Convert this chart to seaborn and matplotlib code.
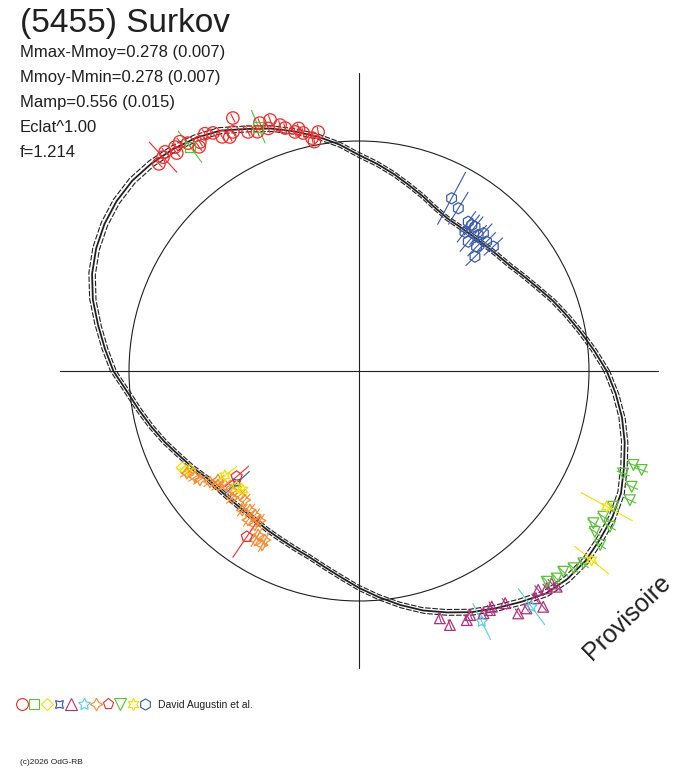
import numpy as np
import pandas as pd
import matplotlib
matplotlib.use('Agg')
import matplotlib.pyplot as plt
import seaborn as sns
from matplotlib.collections import LineCollection
from matplotlib.lines import Line2D

# fitted lightcurve: relative flux (1 = mean) against polar angle, every 5 deg
curve_angle = list(range(0, 360, 5))
curve_flux = [1.077, 1.026, 0.978, 0.935, 0.896, 0.857, 0.826, 0.800, 0.785, 0.774,
              0.767, 0.765, 0.767, 0.783, 0.809, 0.837, 0.870, 0.904, 0.939, 0.989,
              1.035, 1.078, 1.122, 1.161, 1.207, 1.237, 1.259, 1.276, 1.287, 1.287,
              1.278, 1.261, 1.235, 1.198, 1.152, 1.109, 1.068, 1.013, 0.972, 0.935,
              0.900, 0.865, 0.837, 0.809, 0.798, 0.791, 0.787, 0.789, 0.798, 0.807,
              0.820, 0.837, 0.865, 0.900, 0.943, 0.987, 1.033, 1.078, 1.117, 1.157,
              1.191, 1.226, 1.263, 1.280, 1.285, 1.278, 1.272, 1.257, 1.226, 1.196,
              1.161, 1.120]

# observing sessions: polar angle (deg), relative flux, flux error
s1_ang = [132.5, 131.5, 129.4, 129.9, 126.9, 124.8, 125.5, 121.5, 120.3, 117.8, 116.5, 118.9,
          114.9, 111.8, 109.5, 107.8, 106.9, 105.0, 103.2, 101.4, 99.7, 101.0, 134.0, 128.0,
          123.0, 113.0, 110.5, 104.0]
s1_flux = [1.261, 1.272, 1.260, 1.235, 1.239, 1.212, 1.197, 1.214, 1.179, 1.175, 1.229, 1.162,
           1.146, 1.161, 1.158, 1.123, 1.104, 1.076, 1.063, 1.033, 1.054, 1.016, 1.252, 1.265,
           1.230, 1.130, 1.126, 1.087]
s1_err = [0.090] + [0.022] * 27

s2_ang = [127.0, 112.4]
s2_flux = [1.221, 1.149]
s2_err = [0.087, 0.078]

s3_ang = [208.7, 210.0, 210.4]
s3_flux = [0.877, 0.869, 0.852]
s3_err = [0.015, 0.015, 0.015]

s4_ang = [222.5]
s4_flux = [0.720]
s4_err = [0.075]

s5_ang = [288.1, 289.7, 293.4, 294.5, 297.2, 298.7, 299.4, 302.2, 303.3, 305.2, 307.8, 308.0,
          309.3, 310.8, 312.2, 312.5]
s5_flux = [1.131, 1.173, 1.180, 1.166, 1.184, 1.185, 1.176, 1.193, 1.261, 1.263, 1.250, 1.301,
           1.230, 1.248, 1.247, 1.272]
s5_err = [0.025] * 16

s6_ang = [296.1, 306.2]
s6_flux = [1.213, 1.270]
s6_err = [0.089, 0.098]

s7_ang = [210.7, 212.9, 214.4, 216.7, 217.7, 220.4, 223.1, 226.2, 228.5, 231.9, 234.2, 233.3,
          235.9, 238.4, 240.9, 240.9, 238.4, 219.0, 225.0, 230.0, 236.5]
s7_flux = [0.870, 0.849, 0.838, 0.808, 0.775, 0.765, 0.757, 0.747, 0.749, 0.768, 0.772, 0.808,
           0.808, 0.837, 0.866, 0.841, 0.863, 0.790, 0.780, 0.790, 0.780]
s7_err = [0.035] * 21

s8_ang = [220.8, 235.9]
s8_flux = [0.703, 0.870]
s8_err = [0.070, 0.110]

s9_ang = [341.1, 340.7, 338.8, 337.0, 334.5, 331.9, 329.2, 327.0, 328.2, 325.7, 324.2, 319.4,
          317.4, 315.5, 313.6, 311.7]
s9_flux = [1.261, 1.302, 1.232, 1.288, 1.305, 1.253, 1.237, 1.215, 1.284, 1.241, 1.293, 1.285,
           1.267, 1.245, 1.246, 1.227]
s9_err = [0.030] * 16

s10_ang = [331.3, 320.9, 223.4, 225.7, 218.0]
s10_flux = [1.228, 1.303, 0.732, 0.723, 0.740]
s10_err = [0.128, 0.096, 0.020, 0.020, 0.065]

s11_ang = [61.8, 58.6, 53.8, 52.3, 51.2, 49.8, 47.9, 45.4, 46.6, 44.6, 42.8, 48.8, 52.7]
s11_flux = [0.852, 0.829, 0.804, 0.802, 0.805, 0.736, 0.807, 0.790, 0.744, 0.708, 0.796,
            0.786, 0.760]
s11_err = [0.130, 0.083] + [0.057] * 11

sessions = [
    (s1_ang, s1_flux, s1_err, 'o', '#ee2a2a', 80),
    (s2_ang, s2_flux, s2_err, 's', '#5cbf3c', 55),
    (s3_ang, s3_flux, s3_err, 'D', '#f0dc00', 35),
    (s4_ang, s4_flux, s4_err, (4, 1, 45), '#3050b0', 60),
    (s5_ang, s5_flux, s5_err, '^', '#b0307a', 60),
    (s6_ang, s6_flux, s6_err, (5, 1, 0), '#5ccbe0', 70),
    (s7_ang, s7_flux, s7_err, (4, 1, 0), '#f58a30', 70),
    (s8_ang, s8_flux, s8_err, 'p', '#e83030', 70),
    (s9_ang, s9_flux, s9_err, 'v', '#5cbf3c', 60),
    (s10_ang, s10_flux, s10_err, (6, 1, 0), '#f0e000', 70),
    (s11_ang, s11_flux, s11_err, 'h', '#3a5aaa', 65),
]
legend_ms = [8.5, 7, 6, 8, 8, 9, 9, 8, 8, 9, 8]

sns.set_style('white')
plt.rcParams['font.family'] = ['Liberation Sans', 'DejaVu Sans']

W, H = 688, 768
R = 230.0  # pixels of the unit circle
cx, cy = 359, 371
fig = plt.figure(figsize=(W / 100, H / 100), dpi=100)
ax = fig.add_axes([0, 0, 1, 1])
ax.set_xlim(-cx / R, (W - cx) / R)
ax.set_ylim((cy - H) / R, cy / R)
ax.set_axis_off()

ink = '#202020'
# axes cross and unit circle
ax.plot([-1.3, 1.3], [0, 0], color=ink, lw=0.8)
ax.plot([0, 0], [-1.29, 1.295], color=ink, lw=0.8)
ax.add_patch(plt.Circle((0, 0), 1.0, fill=False, color=ink, lw=0.8))

# lightcurve (central fit and its two bounds)
th = np.deg2rad(curve_angle + curve_angle[:1])
fl = np.array(curve_flux + curve_flux[:1])
for scale, ls, lw in [(1.0, '-', 1.3), (1.012, (0, (5, 1.5)), 0.8), (0.988, (0, (5, 1.5)), 0.8)]:
    curve = pd.DataFrame({'x': scale * fl * np.cos(th), 'y': scale * fl * np.sin(th)})
    sns.lineplot(data=curve, x='x', y='y', sort=False, estimator=None, color=ink,
                 lw=lw, linestyle=ls, ax=ax)

# observations with radial error bars
for ang, flux, err, marker, col, size in sessions:
    a = np.deg2rad(ang)
    f = np.array(flux)
    e = np.array(err)
    d = pd.DataFrame({'x': f * np.cos(a), 'y': f * np.sin(a)})
    segs = [[((fi - ei) * np.cos(ai), (fi - ei) * np.sin(ai)),
             ((fi + ei) * np.cos(ai), (fi + ei) * np.sin(ai))] for ai, fi, ei in zip(a, f, e)]
    ax.add_collection(LineCollection(segs, colors=col, linewidths=0.8, zorder=3))
    sns.scatterplot(data=d, x='x', y='y', marker=marker, s=size, color=col,
                    facecolor='none', edgecolor=col, linewidth=0.9, zorder=4, ax=ax)

# texts
def px(x, y):
    return x / W, 1 - y / H

fig.text(*px(20, 32), '(5455) Surkov', fontsize=24, color=ink, va='baseline')
info = ['Mmax-Mmoy=0.278 (0.007)', 'Mmoy-Mmin=0.278 (0.007)', 'Mamp=0.556 (0.015)',
        'Eclat^1.00', 'f=1.214']
for i, t in enumerate(info):
    fig.text(*px(20, 57 + 25 * i), t, fontsize=12, color=ink, va='baseline')

fig.text(*px(627, 617), 'Provisoire', fontsize=18, color=ink, rotation=44,
         ha='center', va='center', rotation_mode='anchor')

handles = [Line2D([], [], ls='', marker=s[3], color=s[4], mfc='none', mew=0.8, ms=ms)
           for s, ms in zip(sessions, legend_ms)]
fig.legend(handles, [''] * len(handles), ncol=len(handles), loc='center left',
           bbox_to_anchor=px(19, 705), frameon=False, fontsize=7.5, handlelength=0.6,
           handletextpad=0, columnspacing=0.58, borderpad=0, borderaxespad=0)
fig.text(*px(158, 705), 'David Augustin et al.', fontsize=7.5, color=ink, va='center')
fig.text(*px(20, 763), '(c)2026 OdG-RB', fontsize=6, color=ink, va='center')

fig.savefig('out.png', dpi=100)
